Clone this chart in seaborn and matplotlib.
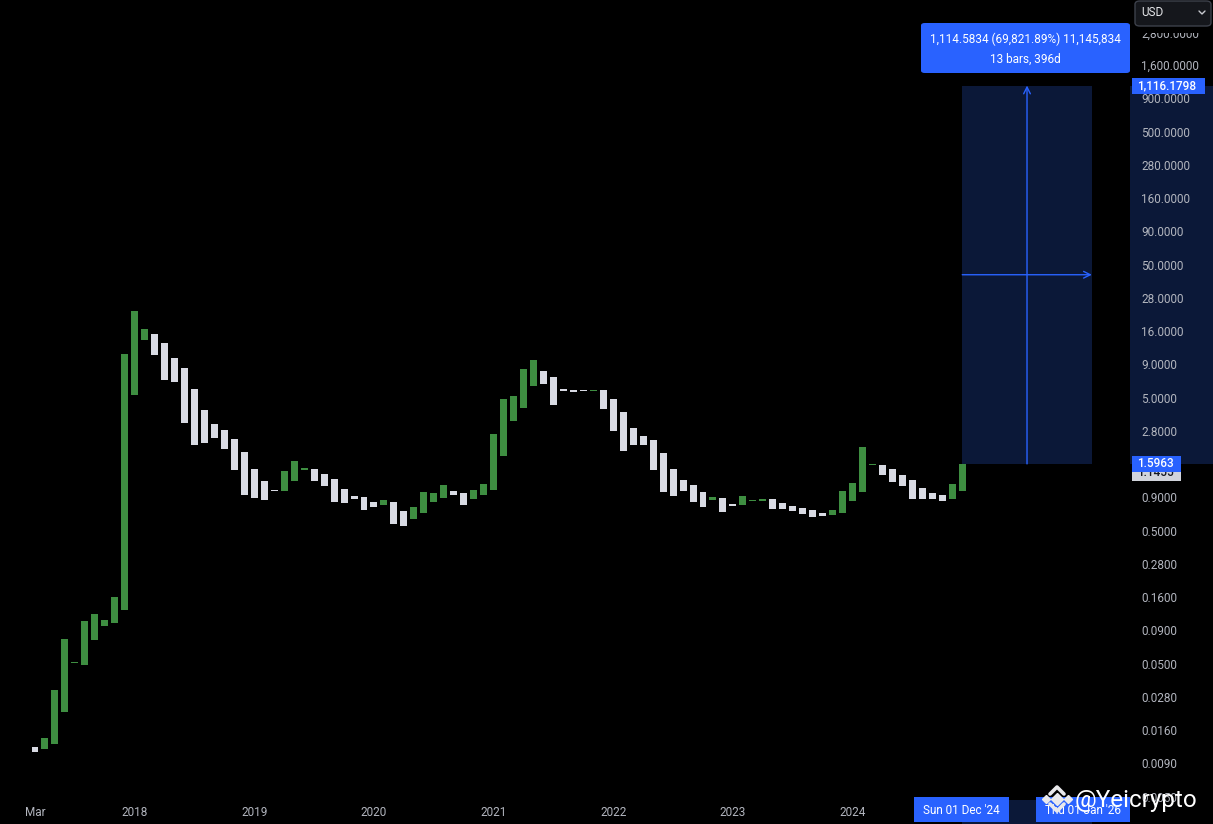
import numpy as np
import pandas as pd
import matplotlib
matplotlib.use("Agg")
import matplotlib.pyplot as plt
import seaborn as sns
from matplotlib.patches import Rectangle, FancyBboxPatch
from matplotlib.lines import Line2D
from matplotlib.ticker import FuncFormatter, NullLocator
from matplotlib.transforms import blended_transform_factory

# monthly candles Mar 2017 .. Dec 2024
months = pd.date_range("2017-03-01", "2024-12-01", freq="MS")

opens = [
    0.01188, 0.01147, 0.01251, 0.02177, 0.05084, 0.0491, 0.0757, 0.0965, 0.1016, 0.1273,
    5.264, 13.64, 15.13, 12.95, 9.98, 8.40, 5.84, 4.06, 3.185, 2.87, 2.457, 1.962,
    1.462, 1.188, 1.016, 0.998, 1.188, 1.437, 1.462, 1.340, 1.229, 1.033, 0.916, 0.900,
    0.826, 0.784, 0.826, 0.7065, 0.615, 0.683, 0.826, 0.885, 0.998, 0.965, 0.870, 0.932,
    1.016, 1.83, 3.355, 4.20, 6.15, 7.98, 7.19, 5.84, 5.74, 5.74, 5.64, 5.74,
    4.91, 3.92, 2.97, 2.59, 2.415, 1.93, 1.462, 1.209, 1.108, 0.981, 0.855, 0.885,
    0.798, 0.784, 0.840, 0.840, 0.870, 0.812, 0.770, 0.744, 0.719, 0.683, 0.659, 0.683,
    0.840, 0.981, 1.566, 1.566, 1.462, 1.318, 1.209, 1.052, 0.965, 0.932, 0.870, 0.998,
]
closes = [
    0.01089, 0.01388, 0.03185, 0.07704, 0.05173, 0.1052, 0.1188, 0.1070, 0.1593, 10.70,
    22.53, 16.50, 10.52, 6.825, 6.59, 3.24, 2.215, 2.29, 2.50, 2.07, 1.437, 0.932,
    0.885, 0.855, 0.998, 1.412, 1.679, 1.487, 1.188, 1.089, 0.826, 0.812, 0.870, 0.719,
    0.757, 0.855, 0.564, 0.545, 0.757, 0.981, 0.965, 1.108, 0.932, 0.784, 1.016, 1.127,
    2.68, 4.91, 5.17, 8.26, 9.65, 6.37, 4.43, 5.64, 5.54, 5.64, 5.74, 4.13,
    2.82, 2.00, 2.215, 2.215, 1.437, 0.981, 0.916, 0.998, 0.826, 0.757, 0.900, 0.694,
    0.770, 0.916, 0.855, 0.870, 0.731, 0.731, 0.7065, 0.671, 0.637, 0.648, 0.719, 0.998,
    1.147, 2.14, 1.594, 1.318, 1.167, 1.089, 0.870, 0.870, 0.870, 0.840, 1.127, 1.5963,
]

price_ticks = [0.005, 0.009, 0.016, 0.028, 0.05, 0.09, 0.16, 0.28, 0.5, 0.9,
               1.6, 2.8, 5, 9, 16, 28, 50, 90, 160, 280, 500, 900, 1600, 2800]
time_labels = ["Mar", "2018", "2019", "2020", "2021", "2022", "2023", "2024"]
time_months = ["2017-03", "2018-01", "2019-01", "2020-01", "2021-01",
               "2022-01", "2023-01", "2024-01"]

range_low = 1.5963
range_high = 1116.1798
range_bars = 13
range_line1 = "1,114.5834 (69,821.89%) 11,145,834"
range_line2 = "13 bars, 396d"
start_tag = "Sun 01 Dec '24"
end_tag = "Thu 01 Jan '26"
hidden_tag = "1.1455"

BG = "#000000"
GREEN = "#3e8e41"
WHITE = "#d8dae3"
BLUE = "#2962ff"
NAVY = "#0b1838"
TXT = "#b2b5be"

W, H = 1213, 824
PX_DEC = 133.0  # pixels per decade on the price axis


def fx(px):
    return px / W


def fy(py):
    return 1 - py / H


sns.set_theme(style="dark", rc={"axes.facecolor": BG, "figure.facecolor": BG,
                                "axes.grid": False, "savefig.facecolor": BG})
plt.rcParams["font.family"] = ["Roboto", "DejaVu Sans"]

df = pd.DataFrame({"month": months, "open": opens, "close": closes})
df["i"] = np.arange(len(df))
df["low"] = df[["open", "close"]].min(axis=1)
df["height"] = (df["close"] - df["open"]).abs()
df["up"] = df["close"] >= df["open"]

fig = plt.figure(figsize=(W / 100, H / 100), dpi=100)
ax = fig.add_axes([0, fy(800), fx(1130), 800 / H])
ax.set_facecolor(BG)
ax.set_yscale("log")

for up, col in [(True, GREEN), (False, WHITE)]:
    sub = df[df["up"] == up].sort_values("i")
    sns.barplot(data=sub, x="i", y="height", bottom=sub["low"].to_numpy(),
                native_scale=True, orient="x", width=0.7, color=col,
                saturation=1, errorbar=None, linewidth=0, ax=ax, zorder=3)

step = 9.97
ax.set_xlim(-35 / step, (1130 - 35) / step)
ax.set_ylim(0.9 * 10 ** (-303 / PX_DEC), 0.9 * 10 ** (497 / PX_DEC))
ax.set_xlabel("")
ax.set_ylabel("")
for s in ax.spines.values():
    s.set_visible(False)

# price axis on the right
ax.yaxis.tick_right()
ax.set_yticks(price_ticks)
ax.yaxis.set_minor_locator(NullLocator())
ax.yaxis.set_major_formatter(FuncFormatter(lambda v, p: f"{v:,.4f}"))
ax.tick_params(axis="y", length=0, pad=8, labelsize=8.5, labelcolor=TXT)

xpos = [months.get_loc(pd.Timestamp(m)) for m in time_months]
ax.set_xticks(xpos, time_labels)
ax.xaxis.set_minor_locator(NullLocator())
ax.tick_params(axis="x", length=0, pad=4, labelsize=8.5, labelcolor=TXT)

# measure tool
last = int(df["i"].iloc[-1])
ax.add_patch(Rectangle((last, range_low), range_bars, range_high - range_low,
                       facecolor=NAVY, edgecolor="none", zorder=0.5))
xm = last + range_bars / 2
ym = np.sqrt(range_low * range_high)
ax.annotate("", xy=(xm, range_high), xytext=(xm, range_low),
            arrowprops=dict(arrowstyle="->", color=BLUE, lw=1, shrinkA=0, shrinkB=0,
                            mutation_scale=12), zorder=4)
ax.annotate("", xy=(last + range_bars, ym), xytext=(last, ym),
            arrowprops=dict(arrowstyle="->", color=BLUE, lw=1, shrinkA=0, shrinkB=0,
                            mutation_scale=12), zorder=4)

# highlighted range on the price scale and on the time scale (behind the axes)
axis_tr = blended_transform_factory(fig.transFigure, ax.transData)
time_tr = blended_transform_factory(ax.transData, fig.transFigure)
fig.add_artist(Rectangle((fx(1130), range_low), 1 - fx(1130), range_high - range_low,
                         transform=axis_tr, facecolor=NAVY, edgecolor="none", zorder=-1))
fig.add_artist(Rectangle((last, 0), range_bars, fy(800), transform=time_tr,
                         facecolor=NAVY, edgecolor="none", zorder=-1))


def price_tag(value, text, px0, px1, fc, tc, half=8, z=6):
    k = 10 ** (half / PX_DEC)
    ax.add_patch(Rectangle((fx(px0), value / k), fx(px1) - fx(px0), value * k - value / k,
                           transform=axis_tr, facecolor=fc, edgecolor="none",
                           clip_on=False, zorder=z))
    ax.text(fx(px0 + 5), value, text, transform=axis_tr, color=tc, fontsize=8.5,
            fontweight="medium", va="center", ha="left", clip_on=False, zorder=z + 0.5)


price_tag(range_low * 10 ** (-9 / PX_DEC), hidden_tag, 1132, 1181, "#d1d4dc", "#131722", z=5)
price_tag(range_low, "1.5963", 1132, 1181, BLUE, "white")
price_tag(range_high, "1,116.1798", 1132, 1205, BLUE, "white")

for text, px0, px1 in [(start_tag, 914, 1009), (end_tag, 1036, 1130)]:
    ax.add_patch(Rectangle((fx(px0), fy(822)), fx(px1) - fx(px0), 25 / H,
                           transform=fig.transFigure, facecolor=BLUE, edgecolor="none",
                           clip_on=False, zorder=6))
    ax.text(fx((px0 + px1) / 2), fy(810), text, transform=fig.transFigure, color="white",
            fontsize=8.5, ha="center", va="center", clip_on=False, zorder=7)

# measure label
fig.add_artist(FancyBboxPatch((fx(921), fy(73)), fx(1130) - fx(921), 50 / H,
                              boxstyle="round,pad=0,rounding_size=0.003",
                              transform=fig.transFigure, facecolor=BLUE, edgecolor="none"))
fig.text(fx(1025), fy(39), range_line1, color="white", fontsize=8.5, ha="center", va="center")
fig.text(fx(1025), fy(59), range_line2, color="white", fontsize=8.5, ha="center", va="center")

# currency selector (top of the price scale is cut under it)
fig.add_artist(Rectangle((fx(1131), fy(33)), 1 - fx(1131), 33 / H,
                         transform=fig.transFigure, facecolor=BG, edgecolor="none"))
fig.add_artist(FancyBboxPatch((fx(1135), fy(26)), fx(1211) - fx(1135), 25 / H,
                              boxstyle="round,pad=0,rounding_size=0.004",
                              transform=fig.transFigure, facecolor="#15171c",
                              edgecolor="#3d414b", lw=1))
fig.text(fx(1141), fy(13), "USD", color="#e6e7ea", fontsize=8.5, ha="left", va="center")
fig.add_artist(Line2D([fx(1199), fx(1202), fx(1205)], [fy(11), fy(14), fy(11)],
                      transform=fig.transFigure, color="#c8cad0", lw=1))

# watermark
logo_col = "#e9e9ec"
fig.add_artist(Line2D([fx(1057)], [fy(799)], marker="D", markersize=6, color=logo_col,
                      linestyle="none", transform=fig.transFigure))
fig.add_artist(Line2D([fx(1046), fx(1068)], [fy(799), fy(799)], marker="D", markersize=4,
                      color=logo_col, linestyle="none", transform=fig.transFigure))
fig.add_artist(Line2D([fx(1050), fx(1057), fx(1064)], [fy(794), fy(787), fy(794)],
                      transform=fig.transFigure, color=logo_col, lw=2.6))
fig.add_artist(Line2D([fx(1050), fx(1057), fx(1064)], [fy(804), fy(811), fy(804)],
                      transform=fig.transFigure, color=logo_col, lw=2.6))
fig.text(fx(1075), fy(807), "@Yeicrypto", color="white", fontsize=17.5,
         ha="left", va="baseline")

fig.savefig("out.png", dpi=100, facecolor=BG)
